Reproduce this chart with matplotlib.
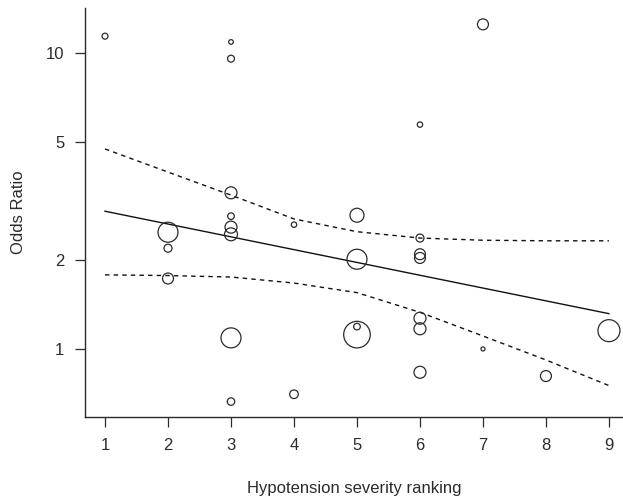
import numpy as np
import matplotlib
matplotlib.use('Agg')
import matplotlib.pyplot as plt

plt.rcParams['font.family'] = ['Liberation Sans', 'DejaVu Sans']

# study estimates: severity rank, odds ratio, relative weight (bubble area)
rank = [1, 2, 2, 2, 3, 3, 3, 3, 3, 3, 3, 3, 4, 4, 5, 5, 5, 5,
        6, 6, 6, 6, 6, 6, 6, 7, 7, 8, 9]
odds_ratio = [11.4, 2.48, 2.19, 1.73, 10.9, 9.57, 3.37, 2.81, 2.58, 2.44, 1.09, 0.664,
              2.63, 0.703, 2.83, 2.01, 1.19, 1.118,
              5.73, 2.37, 2.09, 2.03, 1.27, 1.17, 0.834, 12.5, 1.0, 0.81, 1.153]
weight = [9, 100, 16, 30, 5.3, 12, 36, 11, 36, 42, 100, 14,
          7.3, 18.5, 49, 100, 11, 177,
          7.3, 16, 30, 30, 36, 36, 36, 30, 4, 30, 121]

# fitted meta-regression line and 95% band
fit_x = [1, 9]
fit_y = [2.92, 1.316]
band_x = [1, 2, 3, 4, 5, 6, 7, 8, 9]
band_hi = [4.74, 3.96, 3.31, 2.75, 2.49, 2.37, 2.33, 2.32, 2.32]
band_lo = [1.78, 1.77, 1.75, 1.67, 1.55, 1.33, 1.106, 0.918, 0.752]

ink = '#2b2b2b'

fig = plt.figure(figsize=(6.23, 4.97), dpi=100)
ax = fig.add_axes([0.1364, 0.161, 0.8636, 0.823])

ax.scatter(rank, odds_ratio, s=np.array(weight) * 2.07, facecolors='none',
           edgecolors=ink, linewidths=0.9, zorder=3)
ax.plot(fit_x, fit_y, color='#111111', lw=1.0)
ax.plot(band_x, band_hi, color='#111111', lw=1.0, dashes=(3.2, 3))
ax.plot(band_x, band_lo, color='#111111', lw=1.0, dashes=(3.2, 3))

ax.set_yscale('log')
ax.set_xlim(0.682, 9.223)
ax.set_ylim(0.589, 14.2)
ax.set_xticks(range(1, 10))
ax.set_yticks([1, 2, 5, 10])
ax.set_yticklabels(['1', '2', '5', '10'])
ax.yaxis.set_minor_locator(matplotlib.ticker.NullLocator())

for side in ['top', 'right']:
    ax.spines[side].set_visible(False)
for side in ['left', 'bottom']:
    ax.spines[side].set_color(ink)
    ax.spines[side].set_linewidth(1.0)

ax.tick_params(direction='out', length=7, width=0.9, color=ink,
               labelsize=12, labelcolor=ink, pad=8)

ax.set_xlabel('Hypotension severity ranking', fontsize=12, color=ink, labelpad=20)
ax.set_ylabel('Odds Ratio', fontsize=12, color=ink, labelpad=14)

fig.savefig('out.png', dpi=100)
